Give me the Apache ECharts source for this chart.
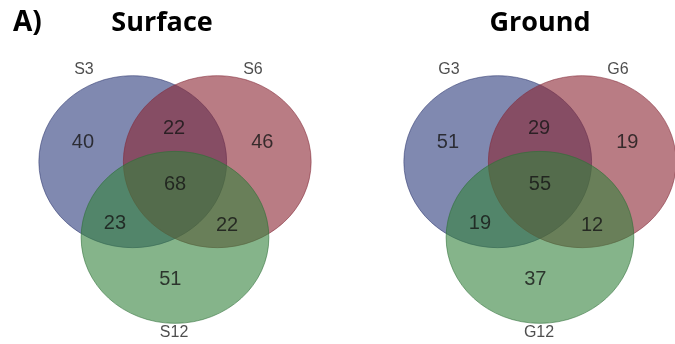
<!DOCTYPE html>
<html>
<head>
<meta charset="utf-8">
<script src="https://cdn.jsdelivr.net/npm/echarts@6/dist/echarts.min.js"></script>
<style>
  html, body { margin: 0; padding: 0; background: #ffffff; }
  #chart { width: 675px; height: 344px; }
</style>
</head>
<body>
<div id="chart"></div>
<script>
// Set names for the two sample groups
const surfaceSets = ['S3', 'S6', 'S12'];
const groundSets = ['G3', 'G6', 'G12'];

// Region counts, in order:
// first only, first∩second, second only, all three, first∩third, second∩third, third only
const surfaceCounts = [40, 22, 46, 68, 23, 22, 51];
const groundCounts = [51, 29, 19, 55, 19, 12, 37];

// Panel titles
const panelTitles = ['Surface', 'Ground'];

// Venn geometry in unit space (radius 1)
const circleCenters = [[-0.45, 0.12], [0.45, 0.12], [0, -0.76]];
const circleRadius = 1;
const regionAnchors = [
  [-0.98, 0.34], [-0.01, 0.51], [0.93, 0.34], [0, -0.14],
  [-0.64, -0.6], [0.555, -0.625], [-0.05, -1.25]
];
const setNameAnchors = [[-0.97, 1.19], [0.83, 1.19], [-0.01, -1.87]];

const fills = ['rgba(43,58,123,0.6)', 'rgba(138,37,50,0.6)', 'rgba(52,130,60,0.6)'];
const strokes = ['rgba(45,55,110,0.55)', 'rgba(130,40,55,0.55)', 'rgba(45,110,55,0.55)'];

const chart = echarts.init(document.getElementById('chart'), null, { renderer: 'canvas' });

// Both panels share the same scale (about 93.9 px per unit horizontally, 86 px vertically);
// the right panel's x range is trimmed so its grid stays inside the canvas.
const grids = [
  { left: 6, top: 0, width: 338, height: 344 },
  { left: 371, top: 0, width: 302.3, height: 344 }
];
const xRanges = [[-1.8, 1.8], [-1.8, 1.42]];

const xAxes = [], yAxes = [], series = [];
[surfaceCounts, groundCounts].forEach(function (counts, i) {
  xAxes.push({ type: 'value', gridIndex: i, min: xRanges[i][0], max: xRanges[i][1], show: false });
  yAxes.push({ type: 'value', gridIndex: i, min: -2, max: 2, show: false });
  const names = i === 0 ? surfaceSets : groundSets;

  series.push({
    type: 'custom',
    xAxisIndex: i,
    yAxisIndex: i,
    silent: true,
    clip: false,
    data: circleCenters.map(function (c, k) { return [c[0], c[1], circleRadius, k]; }),
    renderItem: function (params, api) {
      const c = api.coord([api.value(0), api.value(1)]);
      const s = api.size([api.value(2), api.value(2)]);
      const k = api.value(3);
      return {
        type: 'ellipse',
        shape: { cx: c[0], cy: c[1], rx: s[0], ry: s[1] },
        style: { fill: fills[k], stroke: strokes[k], lineWidth: 1 }
      };
    }
  });

  series.push({
    type: 'scatter',
    xAxisIndex: i,
    yAxisIndex: i,
    silent: true,
    symbolSize: 0,
    data: counts.map(function (v, k) { return [regionAnchors[k][0], regionAnchors[k][1], v]; }),
    label: {
      show: true,
      position: 'inside',
      formatter: function (p) { return String(p.value[2]); },
      fontFamily: 'Liberation Sans',
      fontSize: 20,
      color: '#151515'
    }
  });

  series.push({
    type: 'scatter',
    xAxisIndex: i,
    yAxisIndex: i,
    silent: true,
    symbolSize: 0,
    data: names.map(function (n, k) { return { name: n, value: setNameAnchors[k] }; }),
    label: {
      show: true,
      position: 'inside',
      formatter: '{b}',
      fontFamily: 'Liberation Sans',
      fontSize: 16,
      color: '#222222'
    }
  });
});

chart.setOption({
  backgroundColor: '#ffffff',
  animation: false,
  grid: grids,
  xAxis: xAxes,
  yAxis: yAxes,
  graphic: [
    { type: 'text', left: 13, top: 9, style: { text: 'A)', fontFamily: 'Open Sans', fontWeight: 'bold', fontSize: 28, fill: '#000' } },
    { type: 'text', x: 162, y: 23, style: { text: panelTitles[0], fontFamily: 'Open Sans', fontWeight: 'bold', fontSize: 27, fill: '#000', textAlign: 'center', textVerticalAlign: 'middle' } },
    { type: 'text', x: 540, y: 23, style: { text: panelTitles[1], fontFamily: 'Open Sans', fontWeight: 'bold', fontSize: 27, fill: '#000', textAlign: 'center', textVerticalAlign: 'middle' } }
  ],
  series: series
});
</script>
</body>
</html>
